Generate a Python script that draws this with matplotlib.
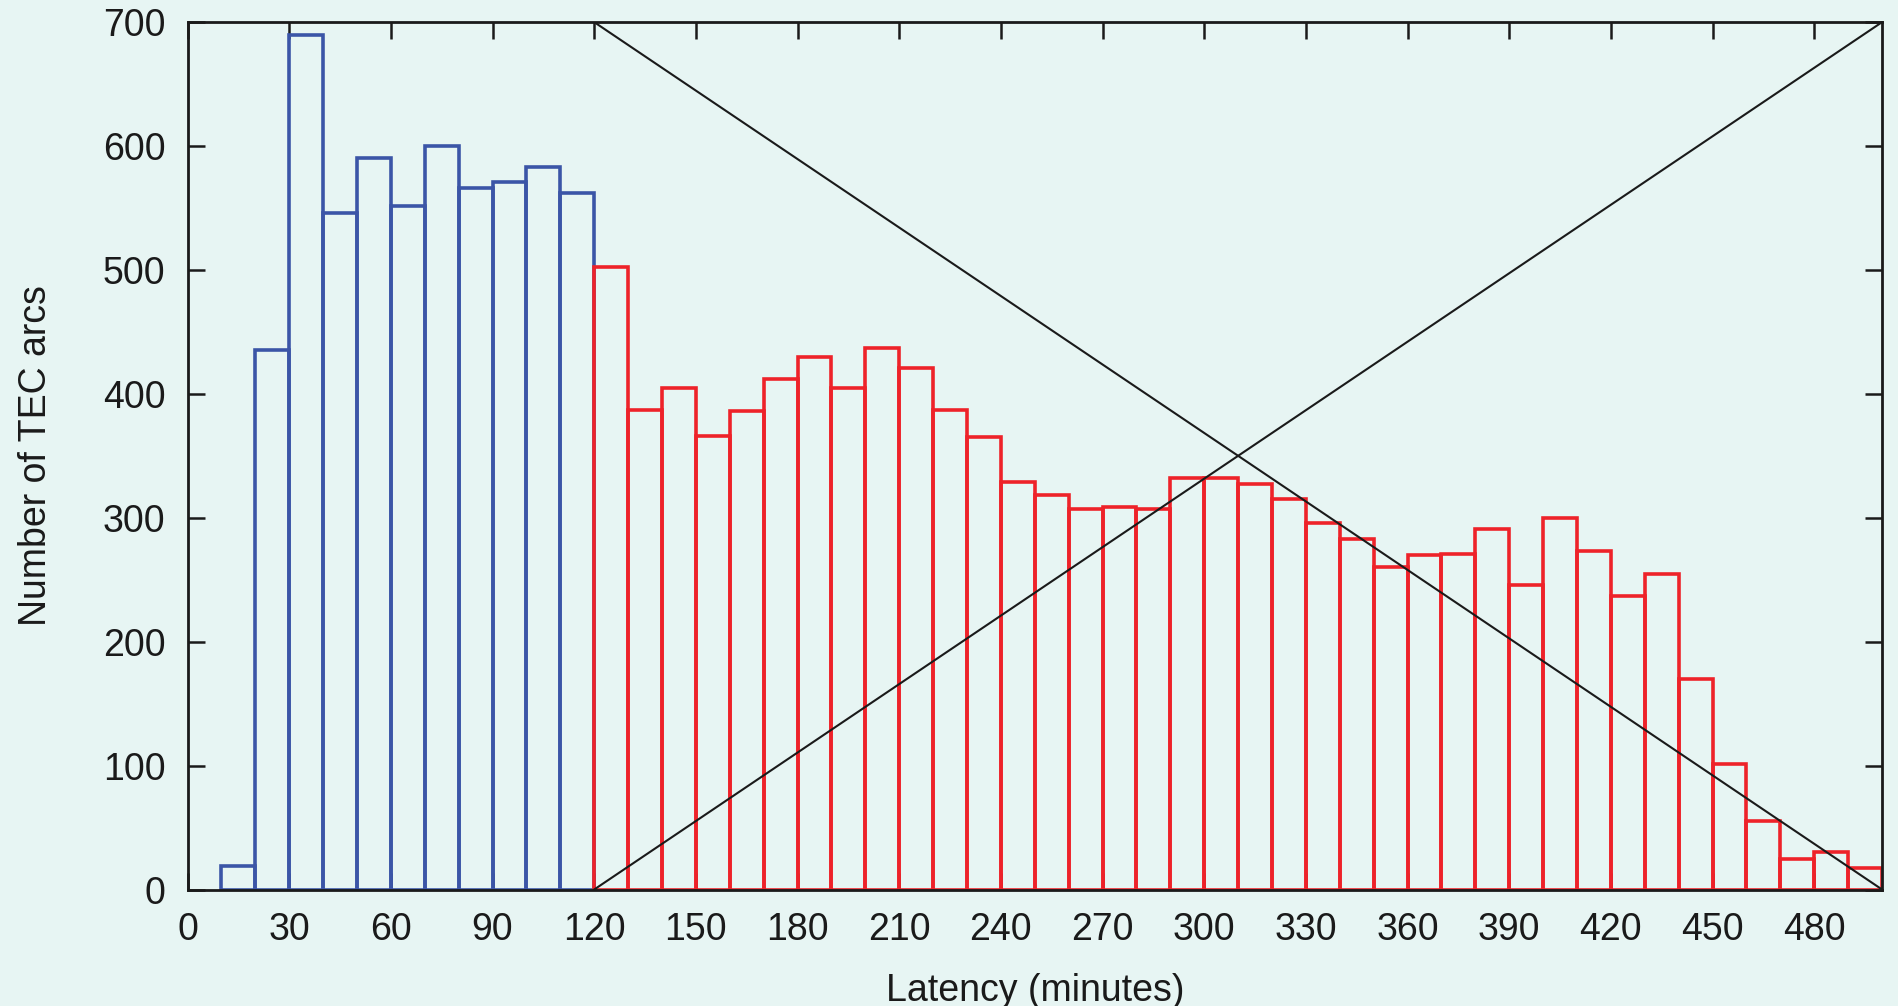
import numpy as np
import matplotlib
matplotlib.use("Agg")
import matplotlib.pyplot as plt
from matplotlib import font_manager

# histogram of latency, 10 minute bins
early_edges = [10, 20, 30, 40, 50, 60, 70, 80, 90, 100, 110]
early_counts = [19, 435, 690, 546, 590, 552, 600, 566, 571, 583, 562]

late_edges = [120, 130, 140, 150, 160, 170, 180, 190, 200, 210,
              220, 230, 240, 250, 260, 270, 280, 290, 300, 310,
              320, 330, 340, 350, 360, 370, 380, 390, 400, 410,
              420, 430, 440, 450, 460, 470, 480, 490]
late_counts = [502, 387, 405, 366, 386, 412, 430, 405, 437, 421,
               387, 365, 329, 318, 307, 309, 307, 332, 332, 327,
               315, 296, 283, 260, 270, 271, 291, 246, 300, 273,
               237, 255, 170, 101, 55, 25, 30, 17]

bin_width = 10

# the two diagonal guide lines
falling_x = [120, 500]
falling_y = [700, 0]
rising_x = [120, 500]
rising_y = [0, 700]

xticks = list(range(0, 481, 30))
yticks = list(range(0, 701, 100))

bg = "#e7f5f3"
blue = "#3b55a7"
red = "#ee2229"

names = {f.name for f in font_manager.fontManager.ttflist}
if "Liberation Sans Narrow" in names:
    plt.rcParams["font.family"] = ["Liberation Sans Narrow", "DejaVu Sans"]
    fs = 33
else:
    plt.rcParams["font.family"] = ["Liberation Sans", "DejaVu Sans"]
    fs = 27

fig = plt.figure(figsize=(18.98, 10.06), dpi=100, facecolor=bg)
ax = fig.add_axes([0.0988, 0.1158, 0.8928, 0.8622])
ax.set_facecolor(bg)

ax.bar(early_edges, early_counts, width=bin_width, align="edge",
       fill=False, edgecolor=blue, linewidth=2.6, zorder=2)
ax.bar(late_edges, late_counts, width=bin_width, align="edge",
       fill=False, edgecolor=red, linewidth=2.6, zorder=3)

ax.plot(falling_x, falling_y, color="#1a1a1a", linewidth=1.5, zorder=4)
ax.plot(rising_x, rising_y, color="#1a1a1a", linewidth=1.5, zorder=4)

ax.set_xlim(0, 500)
ax.set_ylim(0, 700)
ax.set_xticks(xticks)
ax.set_yticks(yticks)

ax.tick_params(direction="in", length=12, width=1.8, top=True, right=True,
               labelsize=fs, colors="#1a1a1a")
ax.tick_params(axis="x", pad=16)
ax.tick_params(axis="y", pad=16)

for s in ax.spines.values():
    s.set_linewidth(2.0)
    s.set_color("#1a1a1a")
    s.set_zorder(5)

ax.set_xlabel("Latency (minutes)", fontsize=fs, color="#1a1a1a", labelpad=18)
ax.set_ylabel("Number of TEC arcs", fontsize=fs, color="#1a1a1a", labelpad=35)

fig.savefig("out.png", dpi=100, facecolor=bg)
